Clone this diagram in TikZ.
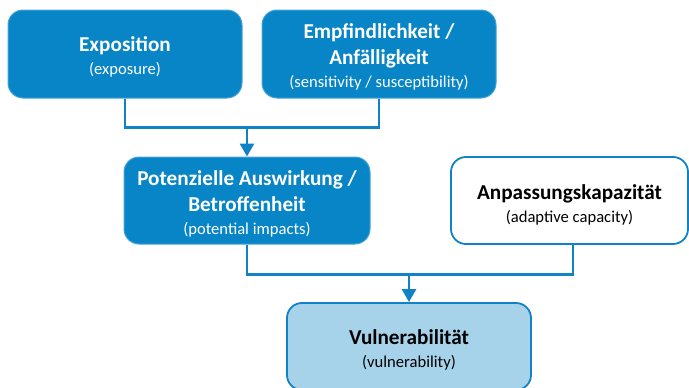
\documentclass[tikz,border=0pt]{standalone}
\usepackage{fontspec}
\setmainfont{Carlito}
\usetikzlibrary{arrows.meta}

\definecolor{boxblue}{RGB}{8,133,198}
\definecolor{lineblue}{RGB}{18,130,198}
\definecolor{paleblue}{RGB}{167,211,234}
\definecolor{rimblue}{RGB}{70,165,215}

\newcommand\hdfont{\fontsize{21.2}{26}\selectfont\bfseries}
\newcommand\subfont{\fontsize{16.6}{20}\selectfont}

\tikzset{
  basebox/.style={rounded corners=15pt, inner sep=0pt},
  darkbox/.style={basebox, fill=boxblue, draw=rimblue, line width=1pt},
  whitebox/.style={basebox, fill=white, draw=lineblue, line width=1.8pt},
  resultbox/.style={basebox, fill=paleblue, draw=lineblue, line width=1.8pt},
  boxtext/.style={align=center, inner sep=0pt, font=\fontsize{21.2}{26}\selectfont},
  lighttext/.style={boxtext, text=white},
  darktext/.style={boxtext, text=black},
  link/.style={draw=lineblue, line width=2.7pt},
  arrowlink/.style={link, -{Triangle[width=14pt,length=13pt]}},
}

\begin{document}
\begin{tikzpicture}[x=1pt,y=-1pt]
  \useasboundingbox (0,0) rectangle (689,388);
  \clip (0,0) rectangle (689,388);

  % boxes
  \node[darkbox, minimum width=234pt, minimum height=88pt] (expo) at (125,54) {};
  \node[darkbox, minimum width=234pt, minimum height=88pt] (sens) at (379,54) {};
  \node[darkbox, minimum width=246pt, minimum height=87pt] (pot) at (247,200.5) {};
  \node[whitebox, minimum width=237pt, minimum height=87pt] (adapt) at (569.5,200.5) {};
  \node[resultbox, minimum width=244pt, minimum height=87pt] (vul) at (409,346.5) {};

  % box labels (canvas yshift: negative moves down)
  \node[lighttext] (expoT) at ([yshift=-3pt]expo.center)
    {{\hdfont Exposition}\\[-3pt]{\subfont (exposure)}};
  \node[lighttext] (sensT) at ([yshift=-3pt]sens.center)
    {{\hdfont Empfindlichkeit /}\\{\hdfont Anfälligkeit}\\[-3pt]{\subfont (sensitivity / susceptibility)}};
  \node[lighttext] (potT) at ([yshift=-3.5pt]pot.center)
    {{\hdfont Potenzielle Auswirkung /}\\{\hdfont Betroffenheit}\\[-3pt]{\subfont (potential impacts)}};
  \node[darktext] (adaptT) at ([yshift=-4pt]adapt.center)
    {{\hdfont Anpassungskapazität}\\[-3pt]{\subfont (adaptive capacity)}};
  \node[darktext] (vulT) at ([yshift=-3.5pt]vul.center)
    {{\hdfont Vulnerabilität}\\[-3pt]{\subfont (vulnerability)}};

  % junction points of the connectors
  \path (expo.south) ++(0,29) coordinate (j1);
  \path (pot.south) ++(0,30) coordinate (j2);
  \coordinate (adport) at ([xshift=3.5pt]adapt.south);

  % connectors
  \draw[link] (expo.south) -- (j1) -| (sens.south);
  \draw[arrowlink] (j1 -| pot.north) -- (pot.north);
  \draw[link] (pot.south) -- (j2) -| (adport);
  \draw[arrowlink] (j2 -| vul.north) -- (vul.north);
\end{tikzpicture}
\end{document}
